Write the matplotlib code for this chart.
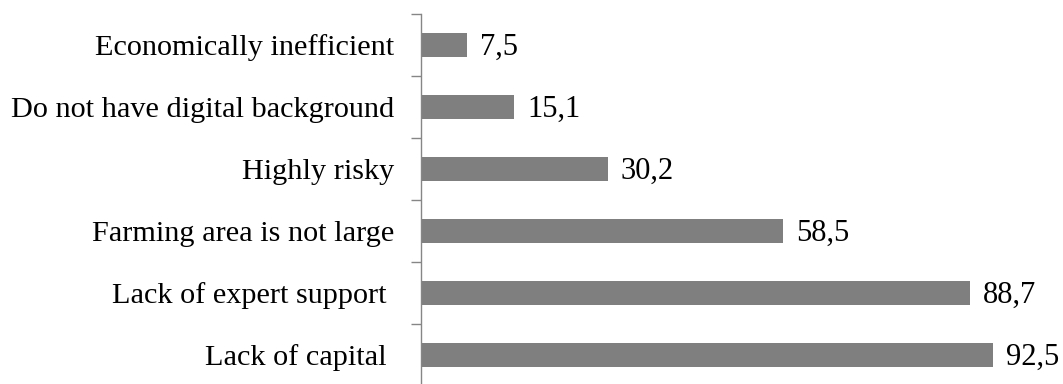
import numpy as np
import matplotlib.pyplot as plt

# reasons (top to bottom) and percentages
reasons = ["Economically inefficient", "Do not have digital background", "Highly risky",
           "Farming area is not large", "Lack of expert support ", "Lack of capital "]
shares = [7.5, 15.1, 30.2, 58.5, 88.7, 92.5]

plt.rcParams['font.family'] = ['Liberation Serif', 'DejaVu Serif']

fig = plt.figure(figsize=(10.63, 3.84), dpi=100)
ax = fig.add_axes([421 / 1063, -2 / 384, 618.4 / 1063, 372 / 384])

y = np.arange(len(reasons))
ax.barh(y, shares, height=0.39, color='#7f7f7f')

# value labels use a decimal comma, nudged down a touch
for yi, v in zip(y, shares):
    ax.text(v + 2.1, yi + 0.03, f"{v:.1f}".replace('.', ','), va='center', ha='left', fontsize=22)

ax.set_xlim(0, 100)
ax.set_ylim(len(reasons) - 0.5, -0.5)
ax.set_yticks(y)
ax.set_yticklabels(reasons, fontsize=21.8)
ax.set_yticks(np.arange(len(reasons) + 1) - 0.5, minor=True)
ax.tick_params(axis='y', which='major', length=0, pad=19)
ax.tick_params(axis='y', which='minor', length=7, width=1, color='#868686', direction='out')
ax.set_xticks([])

for s in ['top', 'right', 'bottom']:
    ax.spines[s].set_visible(False)
ax.spines['left'].set_color('#868686')
ax.spines['left'].set_linewidth(1)

fig.savefig('out.png', dpi=100)
